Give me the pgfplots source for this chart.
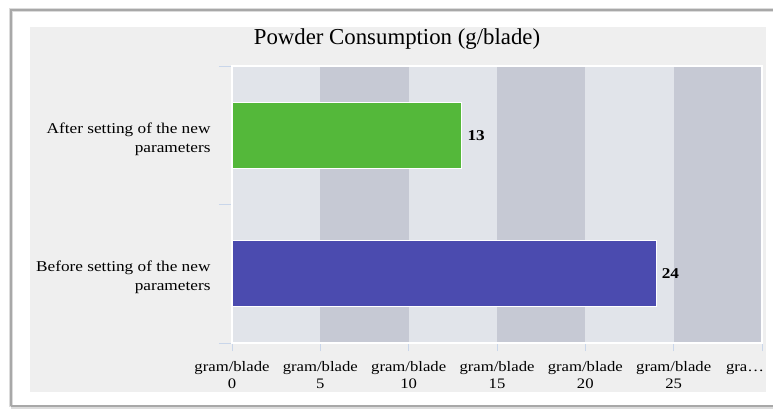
\documentclass[border=0pt]{standalone}
\usepackage{pgfplots}
\pgfplotsset{compat=1.18}
\usepackage{fontspec}
\setmainfont{Liberation Serif}
\newfontfamily\wide{Liberation Serif}[FakeStretch=1.15]

\definecolor{pagebg}{HTML}{EFEFEF}
\definecolor{bandlight}{HTML}{E1E4EA}
\definecolor{banddark}{HTML}{C6C9D4}
\definecolor{barblue}{HTML}{4B4BAF}
\definecolor{bargreen}{HTML}{54B83A}
\definecolor{tickc}{HTML}{C9D6EA}
\definecolor{framec}{HTML}{A8A8A8}

\begin{document}
\begin{tikzpicture}[x=1pt,y=1pt]
\path[use as bounding box] (0,0) rectangle (773,409);
% outer frame with a soft shadow
\draw[framec!40, line width=4pt] (11,2) -- (11,399) -- (790,399);
\draw[framec!40, line width=4pt] (11,2) -- (790,2);
\draw[framec, line width=1.5pt] (11,3) -- (11,399) -- (790,399);
\draw[framec, line width=1.5pt] (11,3) -- (790,3);
% chart background
\fill[pagebg] (30,17) rectangle (766,382);
% title
\node[font=\fontsize{22.8}{26}\selectfont] at (397,370) {Powder Consumption (g/blade)};

\begin{axis}[
  at={(232pt,66pt)}, anchor=south west,
  scale only axis, width=530pt, height=277pt,
  xmin=0, xmax=30, ymin=-0.5, ymax=1.5,
  xbar, bar shift=0pt, bar width=0.476,
  axis line style={white, line width=1.5pt},
  axis background/.style={fill=bandlight},
  tick align=outside,
  xtick pos=bottom, ytick pos=left,
  xtick={0,5,10,15,20,25},
  xticklabels={gram/blade\\0, gram/blade\\5, gram/blade\\10, gram/blade\\15, gram/blade\\20, gram/blade\\25},
  xticklabel style={align=center, font=\wide\fontsize{14.5}{17}\selectfont, yshift=-7pt},
  extra x ticks={30},
  extra x tick labels={gra\ldots\\\phantom{0}},
  extra x tick style={xticklabel style={xshift=-17pt, yshift=-3pt}},
  x tick style={draw=tickc, line width=0.8pt},
  major tick length=8pt,
  ytick={0,1},
  yticklabels={Before setting of the new\\parameters, After setting of the new\\parameters},
  yticklabel style={align=right, font=\wide\fontsize{15}{19}\selectfont, xshift=-10pt, yshift=-4pt},
  y tick style={draw=none},
  extra y ticks={-0.5,0.5,1.5},
  extra y tick labels={},
  extra y tick style={y tick style={draw=tickc, line width=0.8pt}, major tick length=13pt},
  nodes near coords,
  nodes near coords style={font=\wide\bfseries\fontsize{15}{18}\selectfont, anchor=west, xshift=2pt, black,
    /pgf/number format/assume math mode=true},
  clip=false,
]
% alternating vertical bands
\fill[banddark] (axis cs:5,-0.5) rectangle (axis cs:10,1.5);
\fill[banddark] (axis cs:15,-0.5) rectangle (axis cs:20,1.5);
\fill[banddark] (axis cs:25,-0.5) rectangle (axis cs:30,1.5);
\draw[white, line width=1.5pt] (axis cs:0,-0.5) rectangle (axis cs:30,1.5);

\addplot[fill=barblue, draw=white, line width=1pt] coordinates {(24,0)};
\addplot[fill=bargreen, draw=white, line width=1pt] coordinates {(13,1)};
\end{axis}
\end{tikzpicture}
\end{document}
